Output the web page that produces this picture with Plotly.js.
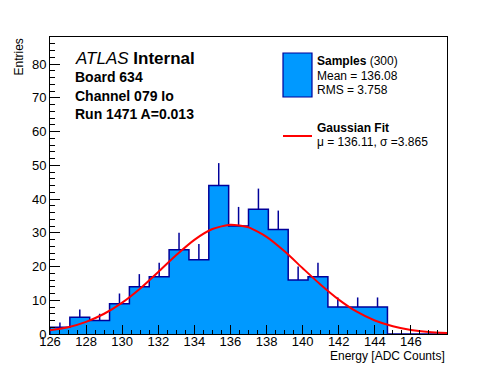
<!DOCTYPE html>
<html>
<head>
<meta charset="utf-8">
<script src="https://cdn.plot.ly/plotly-3.0.1.min.js"></script>
<style>html,body{margin:0;padding:0;background:#fff;}#chart{width:496px;height:372px;}</style>
</head>
<body>
<div id="chart"></div>
<script>
// ---- data ----
const binLow = 126;
const binWidth = 1.1;
const counts = [2, 5, 4, 9, 14, 17, 25, 22, 44, 32, 37, 31, 16, 17, 8, 8, 8, 0, 0, 0];
const fitX = [126,127,128,129,130,131,132,133,134,135,136,137,138,139,140,141,142,143,144,145,146,147,148];
const fitY = [1.1,2.0,3.6,6.0,9.3,13.5,18.4,23.4,27.9,31.1,32.4,31.6,28.8,24.5,19.5,14.6,10.2,6.6,4.0,2.3,1.2,0.6,0.3];
const xTickVals = [126,128,130,132,134,136,138,140,142,144,146];
const textLines = ["Board 634", "Channel 079 Io", "Run 1471 A=0.013"];
const legendSamples = {name: "Samples", n: "(300)", mean: "Mean = 136.08", rms: "RMS = 3.758"};
const legendFit = {name: "Gaussian Fit", pars: "\u03bc = 136.11, \u03c3 =3.865"};

// ---- geometry ----
const W = 496, H = 372;
const M = {l: 50, r: 49, t: 37, b: 38};
const PW = W - M.l - M.r, PH = H - M.t - M.b;
const px = x => (x - M.l) / PW;
const py = y => 1 - (y - M.t) / PH;

const FONT = "Liberation Sans, Arial, Helvetica, sans-serif";
const FILL = "#0099ff";
const NAVY = "#00009a";

// step outline + fill
const edges = counts.map((c, i) => binLow + i * binWidth);
const stepX = [edges[0]].concat(edges, [binLow + counts.length * binWidth]);
const stepY = [0].concat(counts, [counts[counts.length - 1]]);

const centers = [], cVals = [], cErr = [], cZero = [];
counts.forEach((c, i) => {
  if (c > 0) {
    centers.push(binLow + (i + 0.5) * binWidth);
    cVals.push(c);
    cErr.push(Math.sqrt(c));
    cZero.push(0);
  }
});

const traces = [
  {
    x: stepX, y: stepY, type: "scatter", mode: "lines",
    line: {shape: "hv", color: NAVY, width: 1.5},
    fill: "tozeroy", fillcolor: FILL, hoverinfo: "skip", showlegend: false
  },
  {
    x: centers, y: cVals, type: "scatter", mode: "markers",
    marker: {size: 1, color: "rgba(0,0,0,0)"},
    error_y: {type: "data", symmetric: false, array: cErr, arrayminus: cZero,
              color: NAVY, thickness: 1.5, width: 0},
    showlegend: false, hoverinfo: "skip"
  },
  {
    x: fitX, y: fitY, type: "scatter", mode: "lines",
    line: {color: "#ff0000", width: 2, shape: "spline", smoothing: 0.6},
    showlegend: false, hoverinfo: "skip"
  }
];

function ann(text, xpix, ypix, size, anchor, extra) {
  return Object.assign({
    text: text, xref: "paper", yref: "paper",
    x: px(xpix), y: py(ypix), xanchor: anchor || "left", yanchor: "middle",
    showarrow: false, font: {family: FONT, size: size, color: "#000"}
  }, extra || {});
}

const annotations = [
  ann("<i>ATLAS</i> <b>Internal</b>", 73, 58, 17),
  ann("<b>" + textLines[0] + "</b>", 73, 77, 14),
  ann("<b>" + textLines[1] + "</b>", 73, 96, 14),
  ann("<b>" + textLines[2] + "</b>", 73, 114, 14),
  ann("<b>" + legendSamples.name + "</b> " + legendSamples.n, 315, 61, 12),
  ann(legendSamples.mean, 315, 76, 12),
  ann(legendSamples.rms, 315, 90, 12),
  ann("<b>" + legendFit.name + "</b>", 315, 128, 12),
  ann(legendFit.pars, 315, 142, 12),
  ann("Energy [ADC Counts]", 447, 356, 12, "right"),
  Object.assign(ann("Entries", 18, 37, 12, "center"), {textangle: -90, yanchor: "top"})
];

const shapes = [
  {type: "rect", xref: "paper", yref: "paper", x0: px(283), x1: px(312), y0: py(53), y1: py(97),
   fillcolor: FILL, line: {color: NAVY, width: 1.2}},
  {type: "line", xref: "paper", yref: "paper", x0: px(283), x1: px(312), y0: py(136), y1: py(136),
   line: {color: "#ff0000", width: 2}}
];

const layout = {
  width: W, height: H,
  margin: {l: M.l, r: M.r, t: M.t, b: M.b, pad: 0},
  paper_bgcolor: "#fff", plot_bgcolor: "#fff",
  showlegend: false,
  font: {family: FONT, size: 13, color: "#000"},
  xaxis: {
    range: [126, 148], tickmode: "array", tickvals: xTickVals,
    ticks: "inside", ticklen: 9, tickwidth: 1, tickcolor: "#000",
    ticklabelstandoff: -5,
    minor: {dtick: 0.5, tick0: 126, ticks: "inside", ticklen: 4.5, tickcolor: "#000", tickwidth: 1, showgrid: false},
    showline: true, linecolor: "#000", linewidth: 1, mirror: true,
    showgrid: false, zeroline: false,
    tickfont: {family: FONT, size: 13, color: "#000"}
  },
  yaxis: {
    range: [0, 88], dtick: 10, tick0: 0,
    ticks: "inside", ticklen: 10, tickwidth: 1, tickcolor: "#000",
    minor: {dtick: 2, ticks: "inside", ticklen: 5, tickcolor: "#000", tickwidth: 1, showgrid: false},
    showline: true, linecolor: "#000", linewidth: 1, mirror: true,
    showgrid: false, zeroline: false,
    tickfont: {family: FONT, size: 13, color: "#000"}
  },
  annotations: annotations,
  shapes: shapes
};

Plotly.newPlot("chart", traces, layout, {staticPlot: true, displayModeBar: false});
</script>
</body>
</html>
